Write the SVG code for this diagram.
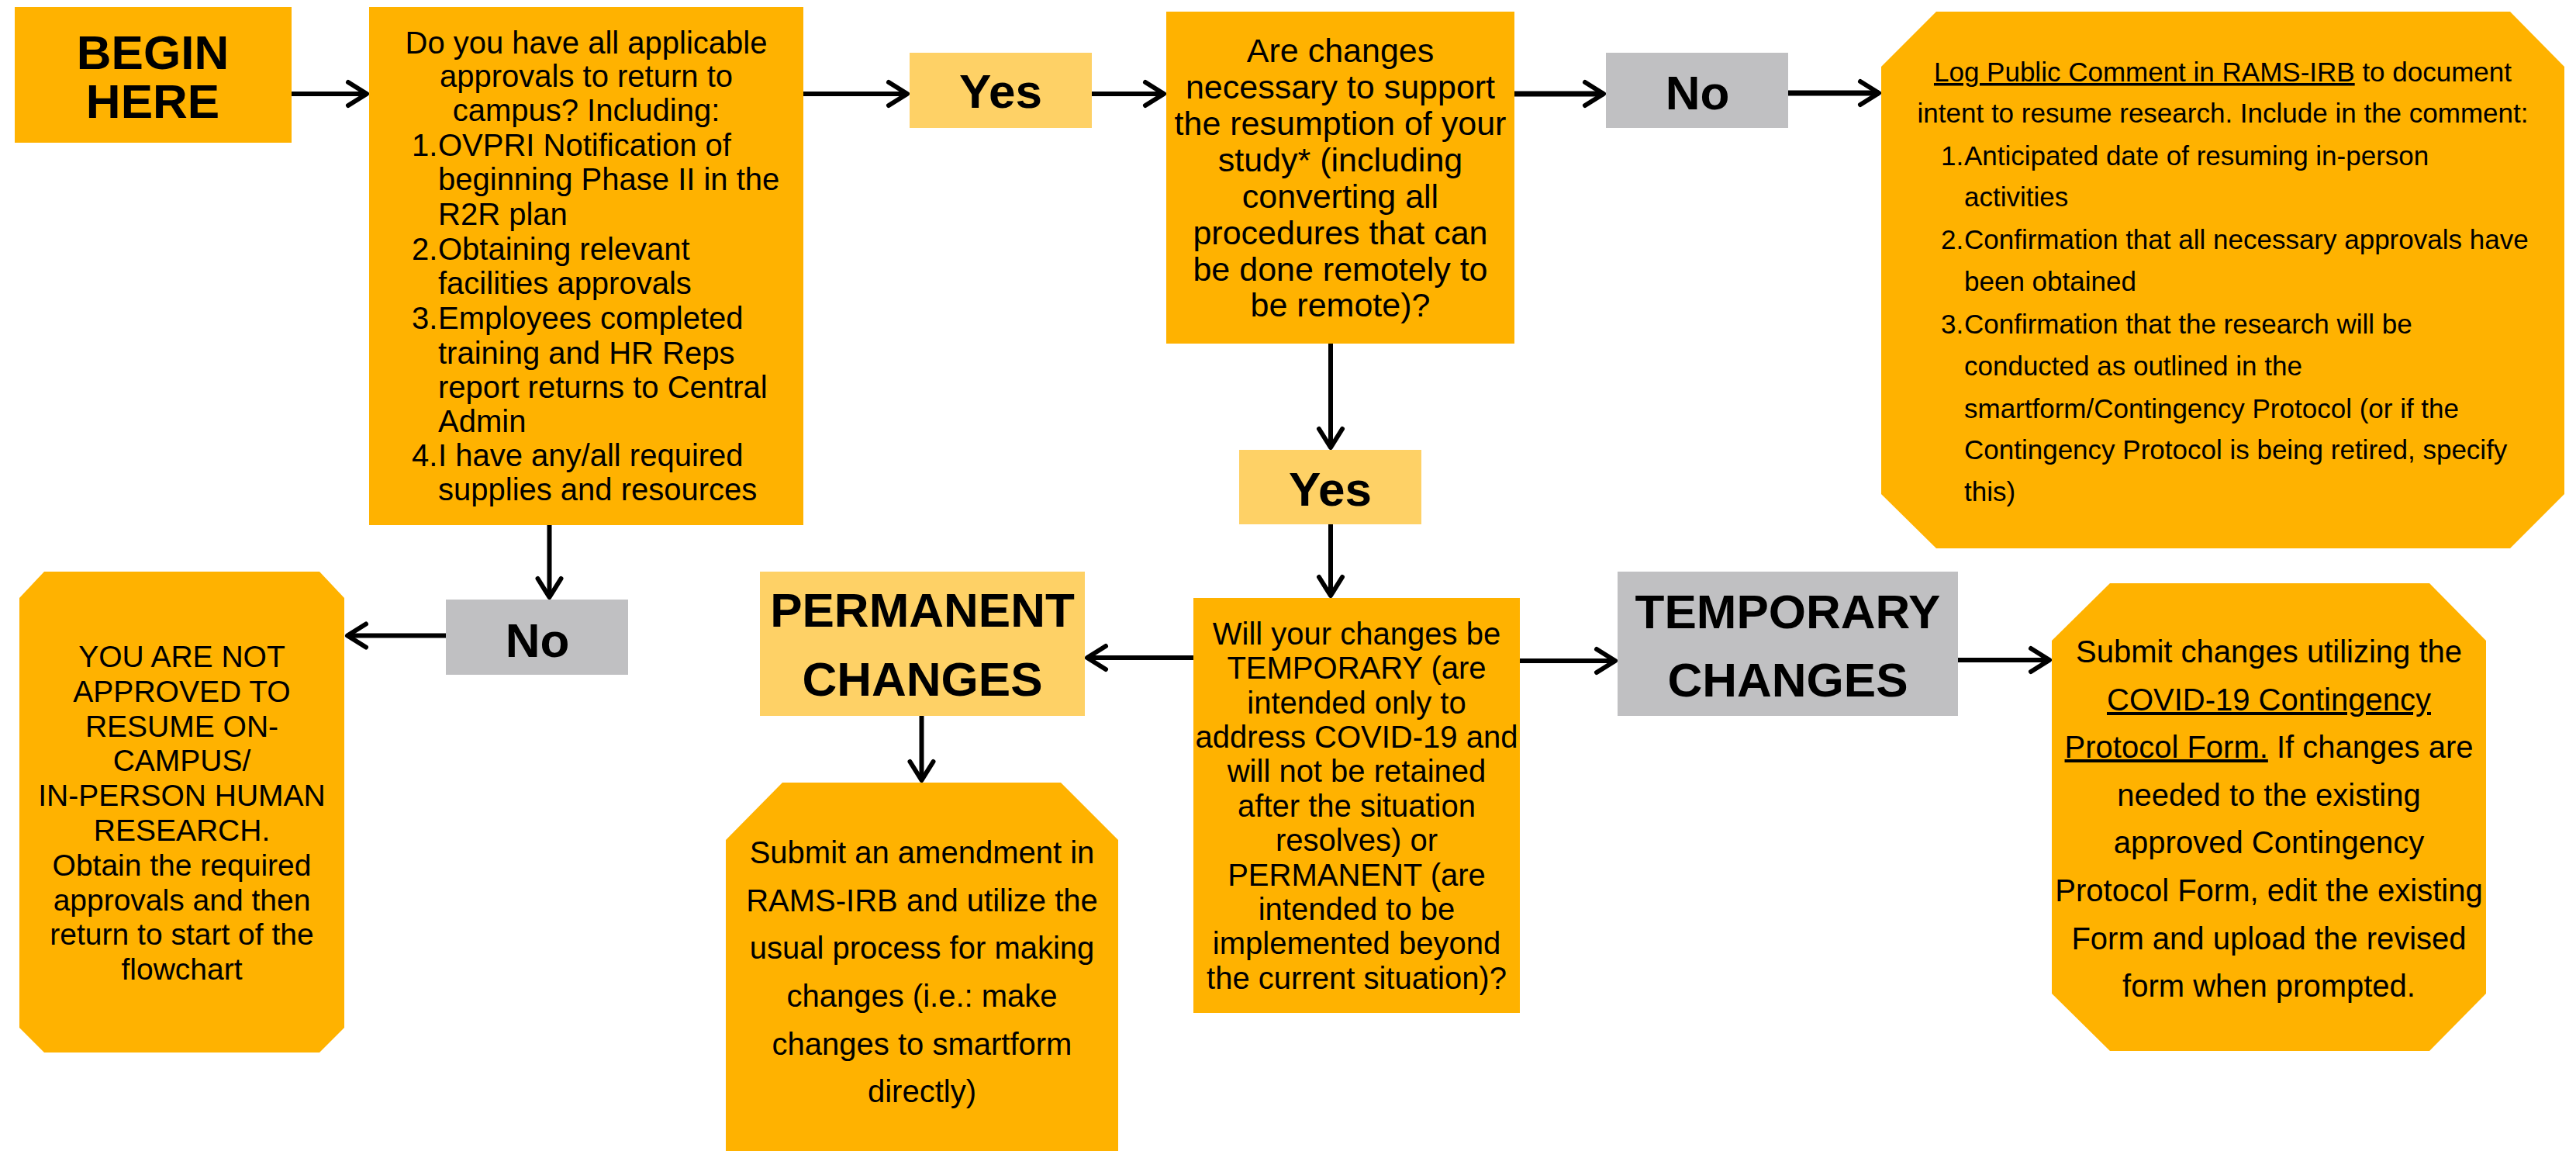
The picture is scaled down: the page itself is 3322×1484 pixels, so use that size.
<svg xmlns="http://www.w3.org/2000/svg" width="3322" height="1484" viewBox="0 0 3322 1484">
<defs>
<style>
.o{fill:#FFB200}
.y{fill:#FED166}
.g{fill:#C0C0C2}
text{font-family:"Liberation Sans",Arial,sans-serif;fill:#000}
.b{font-weight:bold;font-size:62px;text-anchor:middle}
.t40{font-size:40px}
.t43{font-size:43px}
.t39{font-size:39px}
.t35{font-size:35px}
.c{text-anchor:middle}
.u{text-decoration:underline}
.ln{stroke:#000;stroke-width:6;fill:none}
.lt{stroke:#000;stroke-width:7;fill:none}
</style>
<marker id="ah" markerUnits="userSpaceOnUse" markerWidth="40" markerHeight="40" viewBox="-30 -20 34 40" refX="0" refY="0" orient="auto">
<path d="M-24,-15 L0,0 L-24,15" fill="none" stroke="#000" stroke-width="6" stroke-linecap="round" stroke-linejoin="round"/>
</marker>
</defs>
<rect width="3322" height="1484" fill="#fff"/>

<g id="connectors">
<line class="ln" x1="376" y1="121" x2="473" y2="121" marker-end="url(#ah)"/>
<line class="ln" x1="1036" y1="121" x2="1170" y2="121" marker-end="url(#ah)"/>
<line class="ln" x1="1408" y1="121" x2="1501" y2="121" marker-end="url(#ah)"/>
<line class="lt" x1="1953" y1="121" x2="2068" y2="121" marker-end="url(#ah)"/>
<line class="lt" x1="2263" y1="120" x2="2423" y2="120" marker-end="url(#ah)"/>
<line class="ln" x1="708.5" y1="677" x2="708.5" y2="770" marker-end="url(#ah)"/>
<line class="ln" x1="579" y1="819.5" x2="448" y2="819.5" marker-end="url(#ah)"/>
<line class="ln" x1="1716" y1="443" x2="1716" y2="577" marker-end="url(#ah)"/>
<line class="ln" x1="1716" y1="676" x2="1716" y2="768" marker-end="url(#ah)"/>
<line class="ln" x1="1539" y1="848" x2="1402" y2="848" marker-end="url(#ah)"/>
<line class="ln" x1="1188.5" y1="923" x2="1188.5" y2="1006" marker-end="url(#ah)"/>
<line class="ln" x1="1960" y1="852" x2="2083" y2="852" marker-end="url(#ah)"/>
<line class="ln" x1="2525" y1="851" x2="2643" y2="851" marker-end="url(#ah)"/>
</g>

<g id="begin">
<rect class="o" x="19" y="9" width="357" height="175"/>
<text class="b" x="197" y="89">BEGIN</text>
<text class="b" x="197" y="152">HERE</text>
</g>

<g id="q-approvals">
<rect class="o" x="476" y="9" width="560" height="668"/>
<text class="t40 c" x="756" y="69">Do you have all applicable</text>
<text class="t40 c" x="756" y="112">approvals to return to</text>
<text class="t40 c" x="756" y="156">campus? Including:</text>
<text class="t40" x="531" y="201">1.</text><text class="t40" x="565" y="201">OVPRI Notification of</text>
<text class="t40" x="565" y="245">beginning Phase II in the</text>
<text class="t40" x="565" y="290">R2R plan</text>
<text class="t40" x="531" y="335">2.</text><text class="t40" x="565" y="335">Obtaining relevant</text>
<text class="t40" x="565" y="379">facilities approvals</text>
<text class="t40" x="531" y="424">3.</text><text class="t40" x="565" y="424">Employees completed</text>
<text class="t40" x="565" y="469">training and HR Reps</text>
<text class="t40" x="565" y="513">report returns to Central</text>
<text class="t40" x="565" y="557">Admin</text>
<text class="t40" x="531" y="601">4.</text><text class="t40" x="565" y="601">I have any/all required</text>
<text class="t40" x="565" y="645">supplies and resources</text>
</g>

<g id="yes-1">
<rect class="y" x="1173" y="68" width="235" height="97"/>
<text class="b" x="1290.5" y="139">Yes</text>
</g>

<g id="q-changes">
<rect class="o" x="1504" y="15" width="449" height="428"/>
<text class="t43 c" x="1728.5" y="80">Are changes</text>
<text class="t43 c" x="1728.5" y="127">necessary to support</text>
<text class="t43 c" x="1728.5" y="174">the resumption of your</text>
<text class="t43 c" x="1728.5" y="221">study* (including</text>
<text class="t43 c" x="1728.5" y="268">converting all</text>
<text class="t43 c" x="1728.5" y="315">procedures that can</text>
<text class="t43 c" x="1728.5" y="362">be done remotely to</text>
<text class="t43 c" x="1728.5" y="408">be remote)?</text>
</g>

<g id="no-1">
<rect class="g" x="2071" y="68" width="235" height="97"/>
<text class="b" x="2189" y="141">No</text>
</g>

<g id="log-comment">
<polygon class="o" points="2497,15 3237,15 3307,86 3307,637 3237,707 2497,707 2426,637 2426,86"/>
<text class="t35 c" x="2866.5" y="105"><tspan class="u">Log Public Comment in RAMS-IRB</tspan> to document</text>
<text class="t35 c" x="2866.5" y="158">intent to resume research. Include in the comment:</text>
<text class="t35" x="2503" y="213">1.</text><text class="t35" x="2533" y="213">Anticipated date of resuming in-person</text>
<text class="t35" x="2533" y="266">activities</text>
<text class="t35" x="2503" y="321">2.</text><text class="t35" x="2533" y="321">Confirmation that all necessary approvals have</text>
<text class="t35" x="2533" y="375">been obtained</text>
<text class="t35" x="2503" y="430">3.</text><text class="t35" x="2533" y="430">Confirmation that the research will be</text>
<text class="t35" x="2533" y="484">conducted as outlined in the</text>
<text class="t35" x="2533" y="539">smartform/Contingency Protocol (or if the</text>
<text class="t35" x="2533" y="592">Contingency Protocol is being retired, specify</text>
<text class="t35" x="2533" y="646">this)</text>
</g>

<g id="yes-2">
<rect class="y" x="1598" y="580" width="235" height="96"/>
<text class="b" x="1715.5" y="652">Yes</text>
</g>

<g id="no-2">
<rect class="g" x="575" y="773" width="235" height="97"/>
<text class="b" x="693" y="847">No</text>
</g>

<g id="not-approved">
<polygon class="o" points="57,737 412,737 444,771 444,1325 412,1357 57,1357 25,1325 25,771"/>
<text class="t39 c" x="234.5" y="860">YOU ARE NOT</text>
<text class="t39 c" x="234.5" y="905">APPROVED TO</text>
<text class="t39 c" x="234.5" y="950">RESUME ON-</text>
<text class="t39 c" x="234.5" y="994">CAMPUS/</text>
<text class="t39 c" x="234.5" y="1039">IN-PERSON HUMAN</text>
<text class="t39 c" x="234.5" y="1084">RESEARCH.</text>
<text class="t39 c" x="234.5" y="1129">Obtain the required</text>
<text class="t39 c" x="234.5" y="1174">approvals and then</text>
<text class="t39 c" x="234.5" y="1218">return to start of the</text>
<text class="t39 c" x="234.5" y="1263">flowchart</text>
</g>

<g id="permanent">
<rect class="y" x="980" y="737" width="419" height="186"/>
<text class="b" x="1189.5" y="808">PERMANENT</text>
<text class="b" x="1189.5" y="897">CHANGES</text>
</g>

<g id="q-temporary">
<rect class="o" x="1539" y="771" width="421" height="535"/>
<text class="t40 c" x="1749.5" y="831">Will your changes be</text>
<text class="t40 c" x="1749.5" y="875">TEMPORARY (are</text>
<text class="t40 c" x="1749.5" y="920">intended only to</text>
<text class="t40 c" x="1749.5" y="964">address COVID-19 and</text>
<text class="t40 c" x="1749.5" y="1008">will not be retained</text>
<text class="t40 c" x="1749.5" y="1053">after the situation</text>
<text class="t40 c" x="1749.5" y="1097">resolves) or</text>
<text class="t40 c" x="1749.5" y="1142">PERMANENT (are</text>
<text class="t40 c" x="1749.5" y="1186">intended to be</text>
<text class="t40 c" x="1749.5" y="1230">implemented beyond</text>
<text class="t40 c" x="1749.5" y="1275">the current situation)?</text>
</g>

<g id="temporary">
<rect class="g" x="2086" y="737" width="439" height="186"/>
<text class="b" x="2305.5" y="810">TEMPORARY</text>
<text class="b" x="2305.5" y="898">CHANGES</text>
</g>

<g id="amendment">
<polygon class="o" points="1009,1009 1368,1009 1442,1083 1442,1484 936,1484 936,1083"/>
<text class="t40 c" x="1189" y="1113">Submit an amendment in</text>
<text class="t40 c" x="1189" y="1175">RAMS-IRB and utilize the</text>
<text class="t40 c" x="1189" y="1236">usual process for making</text>
<text class="t40 c" x="1189" y="1298">changes (i.e.: make</text>
<text class="t40 c" x="1189" y="1360">changes to smartform</text>
<text class="t40 c" x="1189" y="1421">directly)</text>
</g>

<g id="contingency">
<polygon class="o" points="2721,752 3133,752 3206,826 3206,1281 3133,1355 2721,1355 2646,1281 2646,826"/>
<text class="t40 c" x="2926" y="854">Submit changes utilizing the</text>
<text class="t40 c" x="2926" y="916"><tspan class="u">COVID-19 Contingency</tspan></text>
<text class="t40 c" x="2926" y="977"><tspan class="u">Protocol Form.</tspan> If changes are</text>
<text class="t40 c" x="2926" y="1039">needed to the existing</text>
<text class="t40 c" x="2926" y="1100">approved Contingency</text>
<text class="t40 c" x="2926" y="1162">Protocol Form, edit the existing</text>
<text class="t40 c" x="2926" y="1224">Form and upload the revised</text>
<text class="t40 c" x="2926" y="1285">form when prompted.</text>
</g>
</svg>
